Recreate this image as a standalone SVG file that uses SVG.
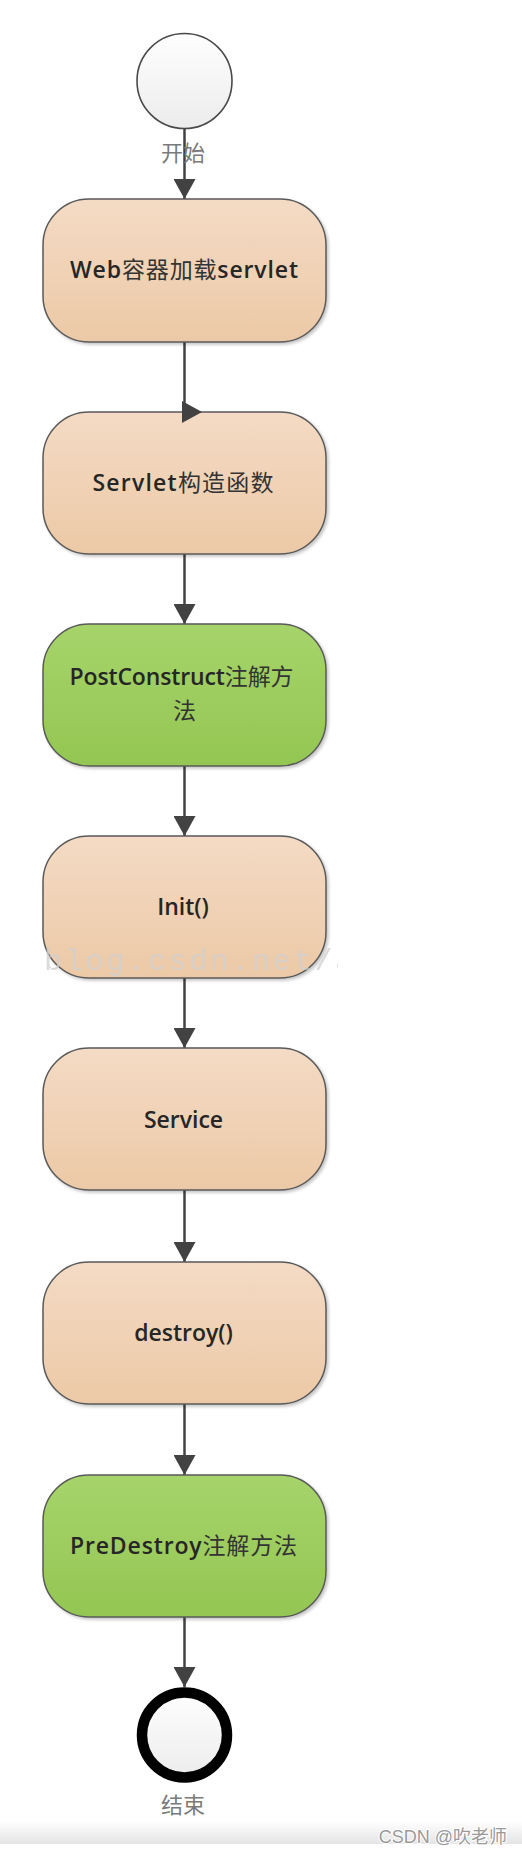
<svg xmlns="http://www.w3.org/2000/svg" width="522" height="1856" viewBox="0 0 522 1856">
  <style>
    .box { stroke: #5a5a5a; stroke-width: 1.5; filter: url(#shadow); }
    .peach { fill: url(#gPeach); }
    .green { fill: url(#gGreen); }
    .lbl { font-family: "Open Sans", "Noto Sans CJK SC", sans-serif; font-weight: 600; font-size: 23px; fill: #262626; text-anchor: middle; }
    .cjk { font-family: "Noto Sans CJK SC", sans-serif; font-weight: 400; fill: #333333; }
    .cap { font-family: "Noto Sans CJK SC", sans-serif; font-size: 22px; fill: #7a7a7a; text-anchor: middle; }
    .conn { stroke: #424242; stroke-width: 2.5; fill: none; }
    .head { fill: #424242; }
    .wm { font-family: "Liberation Mono", monospace; font-size: 30px; letter-spacing: 2.8px; fill: #d0d0d0; opacity: 0.75; }
  </style>
  <defs>
    <linearGradient id="gPeach" x1="0" y1="0" x2="0" y2="1">
      <stop offset="0" stop-color="#f4dbc5"/>
      <stop offset="1" stop-color="#ecc9a6"/>
    </linearGradient>
    <linearGradient id="gGreen" x1="0" y1="0" x2="0" y2="1">
      <stop offset="0" stop-color="#a6d46a"/>
      <stop offset="1" stop-color="#94c653"/>
    </linearGradient>
    <linearGradient id="gCircle" x1="0" y1="0" x2="0" y2="1">
      <stop offset="0" stop-color="#fefefe"/>
      <stop offset="1" stop-color="#ececec"/>
    </linearGradient>
    <linearGradient id="gBand" x1="0" y1="0" x2="0" y2="1">
      <stop offset="0" stop-color="#ffffff"/>
      <stop offset="1" stop-color="#e4e4e4"/>
    </linearGradient>
    <filter id="shadow" x="-10%" y="-10%" width="125%" height="125%">
      <feDropShadow dx="2" dy="2" stdDeviation="1.5" flood-color="#000" flood-opacity="0.22"/>
    </filter>
    <marker id="arrow" markerUnits="userSpaceOnUse" markerWidth="20" markerHeight="22" refX="20" refY="11" orient="auto" viewBox="0 0 20 22">
      <path d="M0,0 L20,11 L0,22 z" class="head"/>
    </marker>
    <clipPath id="wmClip">
      <rect x="40" y="930" width="298" height="60"/>
    </clipPath>
  </defs>

  <rect width="522" height="1856" fill="#ffffff"/>

  <g id="start">
    <circle cx="184.5" cy="81" r="47.5" fill="url(#gCircle)" stroke="#4a4a4a" stroke-width="1.6"/>
  </g>

  <g id="connectors">
    <line class="conn" x1="184.5" y1="128.5" x2="184.5" y2="199" marker-end="url(#arrow)"/>
    <line class="conn" x1="184.5" y1="342" x2="184.5" y2="412"/>
    <line class="conn" x1="184.5" y1="554" x2="184.5" y2="624" marker-end="url(#arrow)"/>
    <line class="conn" x1="184.5" y1="766" x2="184.5" y2="836" marker-end="url(#arrow)"/>
    <line class="conn" x1="184.5" y1="978" x2="184.5" y2="1048" marker-end="url(#arrow)"/>
    <line class="conn" x1="184.5" y1="1190" x2="184.5" y2="1262" marker-end="url(#arrow)"/>
    <line class="conn" x1="184.5" y1="1404" x2="184.5" y2="1475" marker-end="url(#arrow)"/>
    <line class="conn" x1="184.5" y1="1617" x2="184.5" y2="1687" marker-end="url(#arrow)"/>
  </g>

  <text class="cap" x="183" y="161">开始</text>

  <g id="n1">
    <rect class="box peach" x="43" y="199" width="283" height="143" rx="46"/>
    <text class="lbl" x="184" y="278" textLength="228">Web<tspan class="cjk">容器加载</tspan>servlet</text>
  </g>
  <g id="n2">
    <rect class="box peach" x="43" y="412" width="283" height="142" rx="46"/>
    <text class="lbl" x="183" y="491" textLength="181">Servlet<tspan class="cjk">构造函数</tspan></text>
  </g>
  <polygon id="odd-head" class="head" points="182,401 182,423 202,412"/>
  <g id="n3">
    <rect class="box green" x="43" y="624" width="283" height="142" rx="46"/>
    <text class="lbl" x="181.5" y="685" textLength="224">PostConstruct<tspan class="cjk">注解方</tspan></text>
    <text class="lbl" x="184.5" y="719"><tspan class="cjk">法</tspan></text>
  </g>
  <g id="n4">
    <rect class="box peach" x="43" y="836" width="283" height="142" rx="46"/>
    <text class="lbl" x="183" y="915">Init()</text>
  </g>
  <text class="wm" x="44" y="970" clip-path="url(#wmClip)">blog.csdn.net/a</text>
  <g id="n5">
    <rect class="box peach" x="43" y="1048" width="283" height="142" rx="46"/>
    <text class="lbl" x="183.5" y="1128">Service</text>
  </g>
  <g id="n6">
    <rect class="box peach" x="43" y="1262" width="283" height="142" rx="46"/>
    <text class="lbl" x="183.5" y="1341">destroy()</text>
  </g>
  <g id="n7">
    <rect class="box green" x="43" y="1475" width="283" height="142" rx="46"/>
    <text class="lbl" x="183.5" y="1554" textLength="227">PreDestroy<tspan class="cjk">注解方法</tspan></text>
  </g>

  <g id="end">
    <circle cx="184.5" cy="1735" r="42.5" fill="url(#gCircle)" stroke="#000000" stroke-width="10.5"/>
    <text class="cap" x="183" y="1813">结束</text>
  </g>

  <rect x="0" y="1821" width="522" height="23" fill="url(#gBand)"/>
  <text x="507" y="1843" text-anchor="end" font-family="Liberation Sans, Noto Sans CJK SC, sans-serif" font-size="18" fill="#9a9a9a" stroke="#ffffff" stroke-width="2" paint-order="stroke">CSDN @吹老师</text>
</svg>
